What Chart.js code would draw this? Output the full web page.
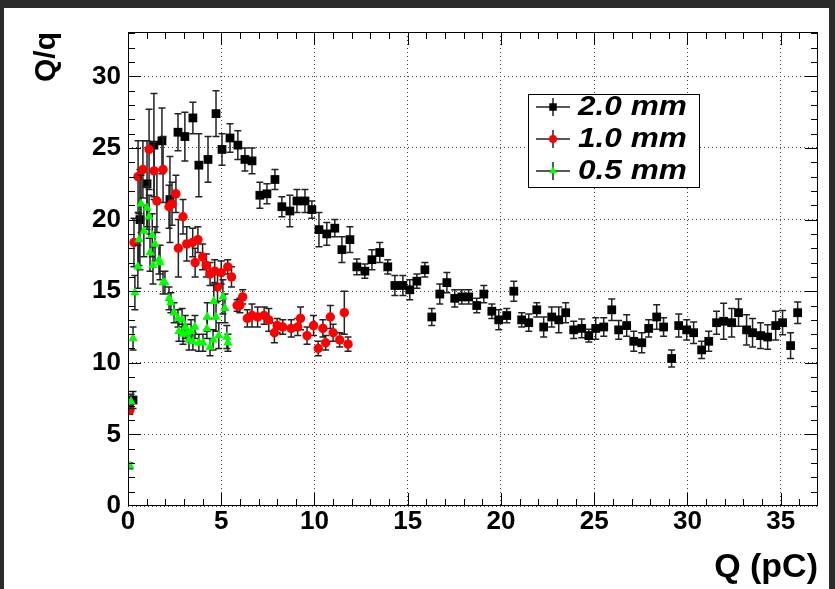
<!DOCTYPE html>
<html>
<head>
<meta charset="utf-8">
<script src="https://cdn.jsdelivr.net/npm/chart.js@4"></script>
<style>
  html, body { margin: 0; padding: 0; background: #2b2b2b; overflow: hidden; }
  #wrap { position: absolute; left: 0; top: 0; width: 835px; height: 589px; }
</style>
</head>
<body>
<div id="wrap"><canvas id="qChart" width="835" height="589"></canvas></div>
<script>
// ---- data: Q (pC) vs Q/q, three gap widths ----
var blackQ = [0.27,0.64,1.02,1.39,1.82,2.25,2.68,3.05,3.48,3.80,4.29,4.72,5.04,5.47,5.89,6.27,6.65,7.07,7.45,7.88,
  8.25,8.68,9.06,9.49,9.86,10.24,10.66,11.09,11.47,11.90,12.27,12.70,13.08,13.50,13.93,14.31,14.74,15.11,15.49,15.92,
  16.29,16.72,17.10,17.52,17.90,18.27,18.70,19.08,19.51,19.88,20.31,20.69,21.11,21.49,21.92,22.29,22.72,23.10,23.47,23.90,
  24.33,24.71,25.08,25.51,25.94,26.31,26.74,27.12,27.55,27.92,28.35,28.72,29.15,29.53,29.96,30.33,30.76,31.14,31.56,31.94,
  32.37,32.74,33.17,33.49,33.92,34.30,34.73,35.10,35.53,35.91];
var blackR = [7.4,20.0,22.5,25.2,25.5,21.4,26.1,25.8,27.1,23.8,24.2,27.4,24.9,25.7,25.2,24.2,24.1,21.7,21.8,22.8,
  20.9,20.6,21.3,21.3,20.7,19.3,19.0,19.4,17.9,18.6,16.7,16.4,17.2,17.7,16.7,15.4,15.4,15.1,15.7,16.5,
  13.2,14.8,15.6,14.5,14.6,14.6,14.0,14.8,13.6,13.0,13.3,15.0,13.0,12.8,13.7,12.5,13.2,13.0,13.5,12.3,
  12.4,11.9,12.4,12.5,13.7,12.3,12.6,11.5,11.4,12.4,13.2,12.5,10.3,12.6,12.3,12.1,10.9,11.5,12.8,12.9,
  12.8,13.5,12.3,12.1,11.9,11.8,12.6,12.8,11.2,13.5];
var blackErr = [0.6,3.5,3.0,3.6,2.3,3.0,1.3,1.7,1.1,2.2,1.6,1.6,1.1,1.0,1.0,0.8,0.9,0.9,0.7,0.7,
  0.7,1.1,0.8,0.8,0.6,1.2,0.8,0.6,0.9,0.9,0.55,0.5,0.7,0.7,0.5,0.7,0.7,0.7,0.5,0.5,
  0.6,0.7,0.7,0.6,0.5,0.5,0.5,0.6,0.5,0.7,0.5,0.7,0.5,0.6,0.5,0.7,0.7,0.9,0.7,0.6,
  0.65,0.45,0.75,0.65,0.75,0.65,0.75,0.7,0.7,0.6,0.85,0.65,0.6,0.8,0.7,0.75,0.6,0.7,0.8,1.25,
  1.0,0.95,1.05,1.0,0.9,0.85,1.0,0.85,0.9,0.75];

var redQ = [0.10,0.32,0.54,0.80,1.13,1.40,1.55,1.88,2.20,2.36,2.57,2.70,2.95,3.15,3.47,3.60,3.75,4.00,4.20,4.40,
  4.65,4.80,5.00,5.35,5.55,5.85,6.00,6.15,6.40,6.65,6.95,7.30,7.55,7.85,8.00,8.30,8.75,9.10,9.25,9.60,
  9.95,10.20,10.45,10.60,10.85,11.00,11.35,11.60,11.80];
var redR = [6.7,18.4,23.0,23.5,24.9,23.4,21.3,23.5,20.9,21.1,21.8,18.0,20.2,18.3,18.4,17.0,18.6,17.4,16.8,16.2,
  16.4,15.3,16.3,16.7,16.0,14.0,14.0,14.6,13.1,13.3,13.2,13.3,13.0,12.1,12.6,12.5,12.4,12.5,13.1,11.9,
  12.6,11.0,12.4,11.4,13.2,12.1,11.6,13.5,11.3];
var redErr = [0.3,1.7,2.5,2.0,2.8,2.0,2.2,2.3,1.5,1.5,1.3,2.0,1.2,1.2,1.0,1.0,0.9,0.9,0.8,0.8,
  0.8,1.0,0.8,0.5,0.7,0.4,0.5,0.5,0.6,0.8,0.7,0.6,0.8,0.7,0.5,0.5,0.6,0.6,0.8,0.6,
  0.7,0.5,0.6,0.5,0.8,0.6,0.5,1.5,0.5];

var greenQ = [0.10,0.16,0.27,0.37,0.53,0.59,0.70,0.85,1.02,1.13,1.18,1.30,1.34,1.45,1.66,1.72,1.88,1.98,2.20,2.30,
  2.47,2.68,2.73,2.90,2.95,3.07,3.16,3.27,3.38,3.48,3.59,3.80,4.02,4.23,4.25,4.40,4.56,4.60,4.72,4.87,
  5.09,5.20,5.30,5.36];
var greenR = [2.8,7.3,11.7,14.9,16.7,18.6,21.1,19.2,20.8,20.2,17.7,18.9,16.8,18.3,17.2,17.0,15.6,15.6,14.5,14.2,
  13.5,13.1,12.2,13.0,12.0,12.5,12.1,11.6,12.2,11.5,12.5,11.4,11.4,12.4,13.2,11.1,11.6,14.3,13.2,11.9,
  14.6,13.8,11.8,11.4];
var greenErr = [0.2,0.5,0.8,1.2,1.5,1.8,2.0,1.8,1.5,1.5,1.3,1.5,1.3,1.2,1.0,1.2,0.8,0.8,0.8,0.7,
  0.7,0.6,0.7,0.8,0.7,0.8,0.6,0.7,0.8,0.6,0.8,0.6,0.6,0.7,1.0,0.6,0.7,1.2,1.0,0.9,
  1.2,1.0,0.8,0.6];

var seriesLabels = ["2.0 mm", "1.0 mm", "0.5 mm"];
var xTicks = [0, 5, 10, 15, 20, 25, 30, 35];
var yTicks = [0, 5, 10, 15, 20, 25, 30];
var X_MAX = 37, Y_MAX = 33.1;

var FONT = "'Liberation Sans', Arial, Helvetica, sans-serif";

function toPoints(xs, ys) {
  return xs.map(function (q, i) { return { x: q, y: ys[i] }; });
}

// dark border round the white pad, like the original screenshot
var padBackground = {
  id: "padBackground",
  beforeDraw: function (chart) {
    var ctx = chart.ctx;
    ctx.save();
    ctx.fillStyle = "#2b2b2b";
    ctx.fillRect(0, 0, chart.width, chart.height);
    ctx.fillStyle = "#ffffff";
    ctx.fillRect(4, 8, 825, 581);
    ctx.restore();
  }
};

// vertical error bars with small end caps, drawn just under each dataset's markers
var errorBars = {
  id: "errorBars",
  beforeDatasetDraw: function (chart, args) {
    var ds = chart.data.datasets[args.index];
    if (!ds.errors) return;
    var ctx = chart.ctx, a = chart.chartArea;
    var xs = chart.scales.x, ys = chart.scales.y;
    ctx.save();
    ctx.beginPath();
    ctx.rect(a.left, a.top, a.right - a.left, a.bottom - a.top);
    ctx.clip();
    ctx.strokeStyle = "#222";
    ctx.lineWidth = 1.5;
    ctx.beginPath();
    ds.data.forEach(function (p, i) {
      var e = ds.errors[i];
      var px = xs.getPixelForValue(p.x);
      var y1 = ys.getPixelForValue(p.y - e);
      var y2 = ys.getPixelForValue(p.y + e);
      ctx.moveTo(px, y1); ctx.lineTo(px, y2);
      ctx.moveTo(px - 3.5, y1); ctx.lineTo(px + 3.5, y1);
      ctx.moveTo(px - 3.5, y2); ctx.lineTo(px + 3.5, y2);
    });
    ctx.stroke();
    ctx.restore();
  }
};

// ROOT-like frame: box plus inward major/minor ticks on all four sides
var rootFrame = {
  id: "rootFrame",
  afterDatasetsDraw: function (chart) {
    var ctx = chart.ctx, a = chart.chartArea;
    var xs = chart.scales.x, ys = chart.scales.y;
    ctx.save();
    ctx.strokeStyle = "#000";
    ctx.lineWidth = 1;
    ctx.strokeRect(a.left + 0.5, a.top + 0.5, a.right - a.left - 1, a.bottom - a.top - 1);
    ctx.beginPath();
    var v, p, len;
    for (v = 1; v < X_MAX; v++) {
      p = Math.round(xs.getPixelForValue(v)) + 0.5;
      len = v % 5 === 0 ? 13 : 7;
      ctx.moveTo(p, a.bottom); ctx.lineTo(p, a.bottom - len);
      ctx.moveTo(p, a.top); ctx.lineTo(p, a.top + len);
    }
    for (v = 1; v < Y_MAX; v++) {
      p = Math.round(ys.getPixelForValue(v)) + 0.5;
      len = v % 5 === 0 ? 13 : 7;
      ctx.moveTo(a.left, p); ctx.lineTo(a.left + len, p);
      ctx.moveTo(a.right, p); ctx.lineTo(a.right - len, p);
    }
    ctx.stroke();
    ctx.restore();
  }
};

// legend box in the ROOT style (marker on an error-bar cross)
var legendBox = {
  id: "legendBox",
  afterDraw: function (chart) {
    var ctx = chart.ctx;
    var bx = 528, by = 94, bw = 172, bh = 94;
    ctx.save();
    ctx.fillStyle = "#fff";
    ctx.fillRect(bx, by, bw, bh);
    ctx.strokeStyle = "#000";
    ctx.lineWidth = 1;
    ctx.strokeRect(bx + 0.5, by + 0.5, bw - 1, bh - 1);
    chart.data.datasets.forEach(function (ds, i) {
      var cy = by + 13 + i * 32;
      var mx = 553;
      ctx.strokeStyle = "#222";
      ctx.lineWidth = 1.5;
      ctx.beginPath();
      ctx.moveTo(mx - 17, cy); ctx.lineTo(mx + 17, cy);
      ctx.moveTo(mx, cy - 9); ctx.lineTo(mx, cy + 9);
      ctx.stroke();
      ctx.fillStyle = ds.backgroundColor;
      Chart.helpers.drawPoint(ctx, {
        pointStyle: ds.pointStyle, radius: ds.pointRadius * 0.85, rotation: 0, borderWidth: 0
      }, mx, cy);
      ctx.save();
      ctx.translate(578, cy + 1);
      ctx.scale(1.17, 1);
      ctx.fillStyle = "#000";
      ctx.font = "italic bold 27px " + FONT;
      ctx.textBaseline = "middle";
      ctx.fillText(ds.label, 0, 0);
      ctx.restore();
    });
    ctx.restore();
  }
};

var ctx = document.getElementById("qChart").getContext("2d");
new Chart(ctx, {
  type: "scatter",
  data: {
    datasets: [
      {
        label: seriesLabels[0],
        data: toPoints(blackQ, blackR),
        errors: blackErr,
        pointStyle: "rect",
        pointRadius: 6.2,
        backgroundColor: "#000000",
        borderColor: "#000000",
        borderWidth: 0,
        order: 3
      },
      {
        label: seriesLabels[1],
        data: toPoints(redQ, redR),
        errors: redErr,
        pointStyle: "circle",
        pointRadius: 4.7,
        backgroundColor: "#ff0000",
        borderColor: "#ff0000",
        borderWidth: 0,
        order: 2
      },
      {
        label: seriesLabels[2],
        data: toPoints(greenQ, greenR),
        errors: greenErr,
        pointStyle: "triangle",
        pointRadius: 5.4,
        backgroundColor: "#00ff00",
        borderColor: "#00ff00",
        borderWidth: 0,
        order: 1
      }
    ]
  },
  options: {
    responsive: false,
    animation: false,
    events: [],
    layout: { padding: { left: 0, top: 32, right: 17, bottom: 0 } },
    plugins: {
      legend: { display: false },
      tooltip: { enabled: false }
    },
    scales: {
      x: {
        type: "linear",
        min: 0,
        max: X_MAX,
        afterFit: function (s) { s.height = 83; },
        afterBuildTicks: function (s) {
          s.ticks = xTicks.map(function (v) { return { value: v }; });
        },
        ticks: {
          color: "#000",
          padding: 0,
          maxRotation: 0,
          autoSkip: false,
          font: { family: FONT, size: 26, weight: "bold" }
        },
        grid: { color: "#444", lineWidth: 1, drawTicks: false },
        border: { display: false, dash: [1, 3] },
        title: {
          display: true,
          text: "Q (pC)",
          align: "end",
          color: "#000",
          padding: { top: 0, bottom: 1 },
          font: { family: FONT, size: 34, weight: "bold" }
        }
      },
      y: {
        type: "linear",
        min: 0,
        max: Y_MAX,
        afterFit: function (s) { s.width = 128; },
        afterBuildTicks: function (s) {
          s.ticks = yTicks.map(function (v) { return { value: v }; });
        },
        ticks: {
          color: "#000",
          padding: 7,
          autoSkip: false,
          font: { family: FONT, size: 26, weight: "bold" }
        },
        grid: { color: "#444", lineWidth: 1, drawTicks: false },
        border: { display: false, dash: [1, 3] },
        title: {
          display: true,
          text: "Q/q",
          align: "end",
          color: "#000",
          padding: { top: 29, bottom: 0 },
          font: { family: FONT, size: 30, weight: "bold" }
        }
      }
    }
  },
  plugins: [padBackground, errorBars, rootFrame, legendBox]
});
</script>
</body>
</html>
